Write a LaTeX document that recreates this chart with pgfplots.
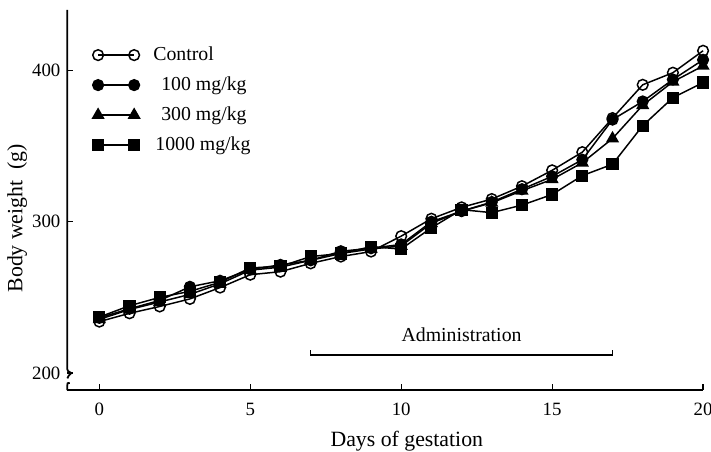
\documentclass[border=0pt]{standalone}
\usepackage{fontspec}
\setmainfont{Liberation Serif}
\usepackage{pgfplots}
\pgfplotsset{compat=1.18}
\usetikzlibrary{calc}
\pgfplotstableread{
day ctrl d100 d300 d1000
0  234   236.5 235.5 237
1  239.5 242.5 242   244.5
2  244   248   247   250
3  249   257   252   254
4  256.5 261   259   260
5  265   268.5 268   269.5
6  267   271.5 270   270.5
7  272.5 274.5 274.5 277
8  277   280.5 279   279
9  280.3 282.5 282   283.5
10 290.5 285   284   282
11 302   300   299   296
12 309.5 307   307   308
13 315   313   312.5 306
14 323.5 321.5 320.5 311
15 334   330   328   318
16 346   341   339   330.5
17 368.5 367.5 355   338
18 390.5 379.5 377   363.5
19 398.5 394   392.5 382
20 413   407   403   392
}\datatable
\begin{document}
\begin{tikzpicture}
\begin{axis}[
 scale only axis, width=321pt, height=192pt,
 xmin=-1.06, xmax=20, ymin=188.7, ymax=440,
 clip=false,
 axis x line=bottom, axis y line=left,
 axis line style={-, line width=0.9pt},
 y axis line style={draw=none},
 xtick={0,5,10,15,20}, ytick={200,300,400},
 tick style={black, line width=0.6pt},
 tick align=inside, major tick length=3pt,
 ticklabel style={font=\fontsize{9.5}{10}\selectfont},
 xticklabel style={yshift=-3pt},
 /pgf/number format/assume math mode=true,
 xlabel={Days of gestation}, ylabel={Body weight\ \ (g)},
 label style={font=\fontsize{11}{12}\selectfont},
 xlabel style={at={(axis description cs:0.534,-0.135)}, anchor=center},
 ylabel style={at={(axis description cs:-0.079,0.452)}, anchor=center},
 every axis plot/.append style={black, line width=0.75pt, mark size=2.7pt, mark options={solid, line width=0.75pt}},
 reverse legend,
 legend style={draw=none, fill=none, at={(axis description cs:0.03,0.925)}, anchor=north west,
   font=\fontsize{10}{12}\selectfont, row sep=2.7pt, cells={anchor=west}},
 legend image code/.code={\draw[mark repeat=2,mark phase=1,#1] plot coordinates {(0cm,0cm) (0.32cm,0cm) (0.64cm,0cm)};},
]
\addplot[mark=square*] table[x=day,y=d1000] {\datatable};
\addlegendentry{\hspace{6pt}1000 mg/kg}
\addplot[mark=triangle*, mark size=3.1pt] table[x=day,y=d300] {\datatable};
\addlegendentry{\hspace{9pt}300 mg/kg}
\addplot[mark=*] table[x=day,y=d100] {\datatable};
\addlegendentry{\hspace{9pt}100 mg/kg}
\addplot[mark=o, mark options={fill=white}] table[x=day,y=ctrl] {\datatable};
\addlegendentry{\hspace{5pt}Control}
\addplot[black, line width=0.6pt, mark=none, forget plot] coordinates {(7,215) (7,212) (17,212) (17,215)};
\node[font=\fontsize{10}{12}\selectfont, anchor=south] at (axis cs:12,216) {Administration};
\coordinate (sw) at (rel axis cs:0,0);
\coordinate (ne) at (rel axis cs:1,1);
\draw[line width=0.9pt] (axis cs:-1.06,440) -- (axis cs:-1.06,202.5)
  .. controls (axis cs:-1.06,200.5) and (axis cs:-0.92,201) .. (axis cs:-0.95,199.5)
  .. controls (axis cs:-0.98,198) and (axis cs:-1.06,198.5) .. (axis cs:-1.06,196.5);
\draw[line width=0.9pt] (axis cs:-0.98,193.5) .. controls (axis cs:-1.06,193.5) .. (axis cs:-1.06,192) -- (axis cs:-1.06,188.7);
\end{axis}
\pgfresetboundingbox
\path ($(sw)+(-34pt,-31pt)$) rectangle ($(ne)+(4pt,5pt)$);
\end{tikzpicture}
\end{document}
